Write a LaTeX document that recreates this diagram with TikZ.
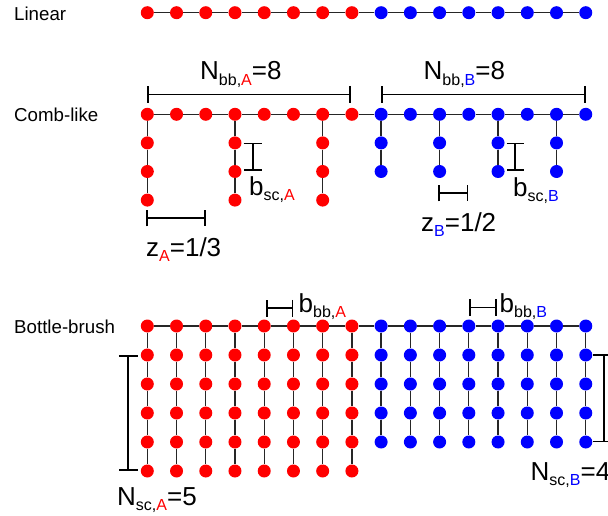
\documentclass[tikz,border=0pt]{standalone}
\usepackage{fontspec}
\setmainfont{Liberation Sans}
\usetikzlibrary{arrows.meta,calc}
\def\beadsep{29.23}
\newcommand{\sublbl}[1]{\raisebox{-0.2em}{\fontsize{16}{17}\selectfont #1}}
\tikzset{
  bead/.style={circle, inner sep=0pt, minimum size=13pt},
  chain/.style={line width=1.3pt, black!85},
  dimbar/.style={line width=1.8pt, {Bar[width=#1]}-{Bar[width=#1]}},
  dimbar/.default=17pt,
  rowlbl/.style={font=\fontsize{18.7}{22}\selectfont, anchor=west, inner sep=0pt},
  lbl/.style={font=\fontsize{26}{30}\selectfont, anchor=base west, inner sep=0pt}
}
\begin{document}
\begin{tikzpicture}[x=1pt,y=-1pt]
\useasboundingbox (0,0) rectangle (608,516);

\node[rowlbl] (linlbl) at (14,13.7) {Linear};
\node[rowlbl] (comblbl) at (14,115) {Comb-like};
\node[rowlbl] (bblbl) at (14,327.3) {Bottle-brush};

% linear
\foreach \i in {1,...,16}{
  \ifnum\i<9 \def\c{red}\else\def\c{blue}\fi
  \node[bead,fill=\c] (lin-\i) at ({147.3+\beadsep*(\i-1)},12.7) {};
}
\foreach \i [remember=\i as \k (initially 1)] in {2,...,16}
  \draw[chain] (lin-\k) -- (lin-\i);

% comb-like
\foreach \i in {1,...,16}{
  \ifnum\i<9 \def\c{red}\else\def\c{blue}\fi
  \node[bead,fill=\c,alias=comb-\i-0] (comb-\i) at ({147.3+\beadsep*(\i-1)},114.3) {};
}
\foreach \i [remember=\i as \k (initially 1)] in {2,...,16}
  \draw[chain] (comb-\k) -- (comb-\i);
\foreach \i/\n in {1/3,4/3,7/3,9/2,11/2,13/2,15/2}{
  \ifnum\i<9 \def\c{red}\else\def\c{blue}\fi
  \foreach \j [remember=\j as \k (initially 0)] in {1,...,\n}{
    \node[bead,fill=\c] (comb-\i-\j) at ($(comb-\i)+(0,28.6*\j)$) {};
    \draw[chain] (comb-\i-\k) -- (comb-\i-\j);
  }
}

% bottle-brush
\foreach \i in {1,...,16}{
  \ifnum\i<9 \def\c{red}\def\n{5}\else\def\c{blue}\def\n{4}\fi
  \node[bead,fill=\c,alias=bb-\i-0] (bb-\i) at ({147.3+\beadsep*(\i-1)},326) {};
  \foreach \j [remember=\j as \k (initially 0)] in {1,...,\n}{
    \node[bead,fill=\c] (bb-\i-\j) at ($(bb-\i)+(0,29*\j)$) {};
    \draw[chain] (bb-\i-\k) -- (bb-\i-\j);
  }
}
\foreach \i [remember=\i as \k (initially 1)] in {2,...,16}
  \draw[chain] (bb-\k) -- (bb-\i);

% dimensions
\coordinate (nbbA-l) at (147.3,94.5);
\coordinate (nbbA-r) at (351,94.5);
\coordinate (nbbB-l) at (380.7,94.5);
\coordinate (nbbB-r) at (586,94.5);
\coordinate (bscA-t) at (252.7,142.7);
\coordinate (bscA-b) at (252.7,171.3);
\coordinate (bscB-t) at (515,142.7);
\coordinate (bscB-b) at (515,171.3);
\coordinate (zA-l) at (146,218.3);
\coordinate (zA-r) at (205.5,218.3);
\coordinate (zB-l) at (438.3,193.3);
\coordinate (zB-r) at (468.3,193.3);
\coordinate (bbbA-l) at (265.7,308.3);
\coordinate (bbbA-r) at (293.3,308.3);
\coordinate (bbbB-l) at (469,307.5);
\coordinate (bbbB-r) at (496.7,307.5);
\coordinate (nscA-t) at (128.3,355);
\coordinate (nscA-b) at (128.3,471);
\coordinate (nscB-t) at (604,354.3);
\coordinate (nscB-b) at (604,442.3);

\draw[dimbar] (nbbA-l) -- (nbbA-r);
\draw[dimbar] (nbbB-l) -- (nbbB-r);
\draw[dimbar=18pt] (bscA-t) -- (bscA-b);
\draw[dimbar] (bscB-t) -- (bscB-b);
\draw[dimbar=16pt] (zA-l) -- (zA-r);
\draw[dimbar=16pt] (zB-l) -- (zB-r);
\draw[dimbar] (bbbA-l) -- (bbbA-r);
\draw[dimbar] (bbbB-l) -- (bbbB-r);
\draw[dimbar=19pt] (nscA-t) -- (nscA-b);
\draw[dimbar=22pt] (nscB-t) -- (nscB-b);

\node[lbl] (nbbA) at (200,80) {N\sublbl{bb,\textcolor{red}{A}}=8};
\node[lbl] (nbbB) at (423.5,80) {N\sublbl{bb,\textcolor{blue}{B}}=8};
\node[lbl] (bscA) at (249,195) {b\sublbl{sc,\textcolor{red}{A}}};
\node[lbl] (bscB) at (513,196.7) {b\sublbl{sc,\textcolor{blue}{B}}};
\node[lbl] (zA) at (146,256.7) {z\sublbl{\textcolor{red}{A}}=1/3};
\node[lbl] (zB) at (421,231.7) {z\sublbl{\textcolor{blue}{B}}=1/2};
\node[lbl] (bbbA) at (298.5,312.7) {b\sublbl{bb,\textcolor{red}{A}}};
\node[lbl] (bbbB) at (499.5,312.7) {b\sublbl{bb,\textcolor{blue}{B}}};
\node[lbl] (nscA) at (117,505) {N\sublbl{sc,\textcolor{red}{A}}=5};
\node[lbl] (nscB) at (530.5,480) {N\sublbl{sc,\textcolor{blue}{B}}=4};
\end{tikzpicture}
\end{document}
